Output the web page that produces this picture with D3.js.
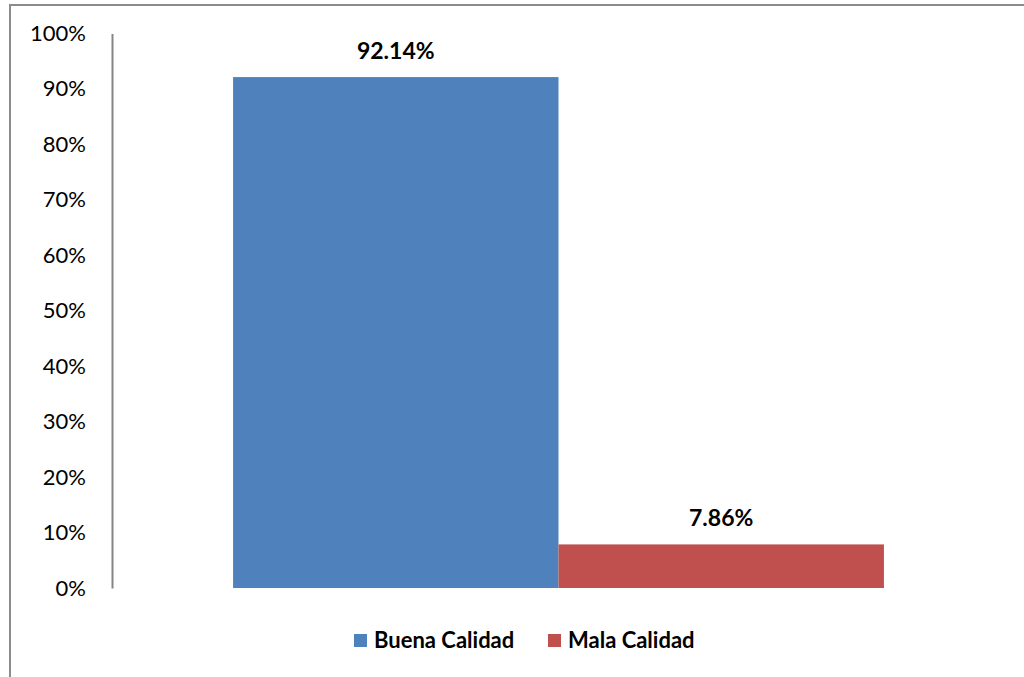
<!DOCTYPE html>
<html>
<head>
<meta charset="utf-8">
<script src="https://cdn.jsdelivr.net/npm/d3@7"></script>
<style>
  body { margin: 0; background: #fff; }
  svg { display: block; font-family: Lato, "Open Sans", sans-serif; }
  .tick-label { font-size: 22px; fill: #000; }
  .value-label { font-size: 23px; font-weight: bold; fill: #000; }
  .legend-label { font-size: 22px; font-weight: bold; fill: #000; }
</style>
</head>
<body>
<svg id="chart"></svg>
<script>
// Data
const categories = ['Buena Calidad', 'Mala Calidad'];
const values = [92.14, 7.86];
const colors = ['#4f81bd', '#c0504d'];
const yTicks = [0, 10, 20, 30, 40, 50, 60, 70, 80, 90, 100];

const width = 1024;
const height = 677;
const margin = { top: 33.5, right: 19, bottom: 89, left: 112 };

const svg = d3.select('#chart')
  .attr('width', width)
  .attr('height', height);

// Outer frame (only top and left edges show in the picture)
svg.append('path')
  .attr('d', `M10,${height} L10,5 L${width},5`)
  .attr('fill', 'none')
  .attr('stroke', '#8c8c8c')
  .attr('stroke-width', 2);

const innerW = width - margin.left - margin.right;
const innerH = height - margin.top - margin.bottom;

const chart = svg.append('g')
  .attr('transform', `translate(${margin.left},${margin.top})`);

const yScale = d3.scaleLinear()
  .domain([0, 100])
  .range([innerH, 0]);

const xScale = d3.scaleBand()
  .domain(categories)
  .range([0, innerW])
  .paddingInner(0)
  .paddingOuter(0.372);

// y axis: line only, labels on the left
const yAxis = d3.axisLeft(yScale)
  .tickValues(yTicks)
  .tickFormat((d) => `${d}%`)
  .tickSize(0)
  .tickPadding(26);

const yAxisG = chart.append('g')
  .attr('class', 'axis y-axis')
  .call(yAxis)
  .attr('font-family', null)
  .attr('font-size', null);
yAxisG.select('.domain')
  .attr('stroke', '#868686')
  .attr('stroke-width', 2);
yAxisG.selectAll('.tick text')
  .attr('class', 'tick-label');

// Bars
chart.selectAll('.bar')
  .data(values)
  .join('rect')
  .attr('class', 'bar')
  .attr('x', (d, i) => xScale(categories[i]))
  .attr('width', xScale.bandwidth())
  .attr('y', (d) => yScale(d))
  .attr('height', (d) => innerH - yScale(d))
  .attr('fill', (d, i) => colors[i]);

// Value labels
chart.selectAll('.value-label')
  .data(values)
  .join('text')
  .attr('class', 'value-label')
  .attr('x', (d, i) => xScale(categories[i]) + xScale.bandwidth() / 2)
  .attr('y', (d) => yScale(d) - 18)
  .attr('text-anchor', 'middle')
  .text((d) => `${d.toFixed(2)}%`);

// Legend
const legend = svg.append('g')
  .attr('transform', 'translate(354,634)');
const legendX = [0, 194];
categories.forEach((c, i) => {
  legend.append('rect')
    .attr('x', legendX[i])
    .attr('y', 0)
    .attr('width', 13)
    .attr('height', 13)
    .attr('fill', colors[i]);
  legend.append('text')
    .attr('class', 'legend-label')
    .attr('x', legendX[i] + 20)
    .attr('y', 14)
    .text(c);
});
</script>
</body>
</html>
